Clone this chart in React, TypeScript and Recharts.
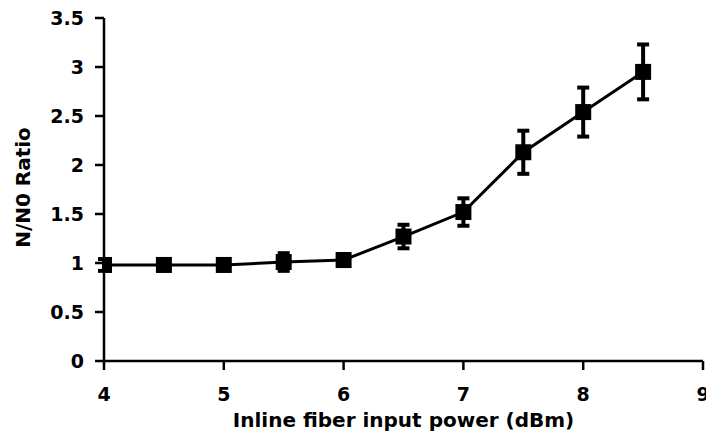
import React from "react";
import { LineChart, Line, XAxis, YAxis, ErrorBar, Label } from "recharts";

const powerDbm = [4, 4.5, 5, 5.5, 6, 6.5, 7, 7.5, 8, 8.5];
const ratio = [0.98, 0.98, 0.98, 1.01, 1.03, 1.27, 1.52, 2.13, 2.54, 2.95];
const ratioErr = [0.06, 0.05, 0.05, 0.09, 0.06, 0.12, 0.14, 0.22, 0.25, 0.28];
const xTicks = [4, 5, 6, 7, 8, 9];
const yTicks = [0, 0.5, 1, 1.5, 2, 2.5, 3, 3.5];

const data = powerDbm.map((p, i) => ({ p, ratio: ratio[i], err: ratioErr[i] }));

const FONT = "'DejaVu Sans', 'Liberation Sans', Arial, sans-serif";
const tickStyle = { fontFamily: FONT, fontWeight: 700, fontSize: 19, fill: "#000" };

const SquareDot = (props: any) => {
  const { cx, cy, index } = props;
  if (cx == null || cy == null) return null;
  return <rect key={`sq-${index}`} x={cx - 8} y={cy - 8} width={16} height={16} fill="#000" />;
};

export default function App() {
  return (
    <div style={{ position: "absolute", left: 0, top: 0, width: 706, height: 440, background: "#fff" }}>
      <LineChart width={706} height={440} data={data} margin={{ top: 18, right: 3, left: 0, bottom: 0 }}>
        <XAxis
          dataKey="p"
          type="number"
          domain={[4, 9]}
          ticks={xTicks}
          allowDataOverflow
          stroke="#000"
          strokeWidth={2.5}
          tickSize={9}
          tickMargin={18}
          tick={tickStyle}
          tickLine={{ stroke: "#000", strokeWidth: 2.5 }}
          height={79}
          interval={0}
        >
          <Label
            content={(props: any) => {
              const vb = props.viewBox || { x: 104, y: 361, width: 599 };
              return (
                <text
                  x={vb.x + vb.width / 2}
                  y={vb.y + 66}
                  textAnchor="middle"
                  style={{ fontFamily: FONT, fontWeight: 700, fontSize: 20, fill: "#000" }}
                >
                  Inline fiber input power (dBm)
                </text>
              );
            }}
          />
        </XAxis>
        <YAxis
          type="number"
          domain={[0, 3.5]}
          ticks={yTicks}
          stroke="#000"
          strokeWidth={2.5}
          tickSize={9}
          tickMargin={11}
          tick={tickStyle}
          tickLine={{ stroke: "#000", strokeWidth: 2.5 }}
          width={104}
          interval={0}
        >
          <Label
            content={(props: any) => {
              const vb = props.viewBox || { x: 0, y: 18, width: 104, height: 343 };
              const cx = 30;
              const cy = vb.y + vb.height / 2 - 2;
              return (
                <text
                  x={cx}
                  y={cy}
                  textAnchor="middle"
                  transform={`rotate(-90, ${cx}, ${cy})`}
                  style={{ fontFamily: FONT, fontWeight: 700, fontSize: 20, fill: "#000" }}
                >
                  N/N0 Ratio
                </text>
              );
            }}
          />
        </YAxis>
        <Line
          dataKey="ratio"
          type="linear"
          stroke="#000"
          strokeWidth={3}
          dot={SquareDot}
          activeDot={false}
          isAnimationActive={false}
        >
          <ErrorBar dataKey="err" direction="y" width={6} strokeWidth={4} stroke="#000" isAnimationActive={false} />
        </Line>
      </LineChart>
    </div>
  );
}
